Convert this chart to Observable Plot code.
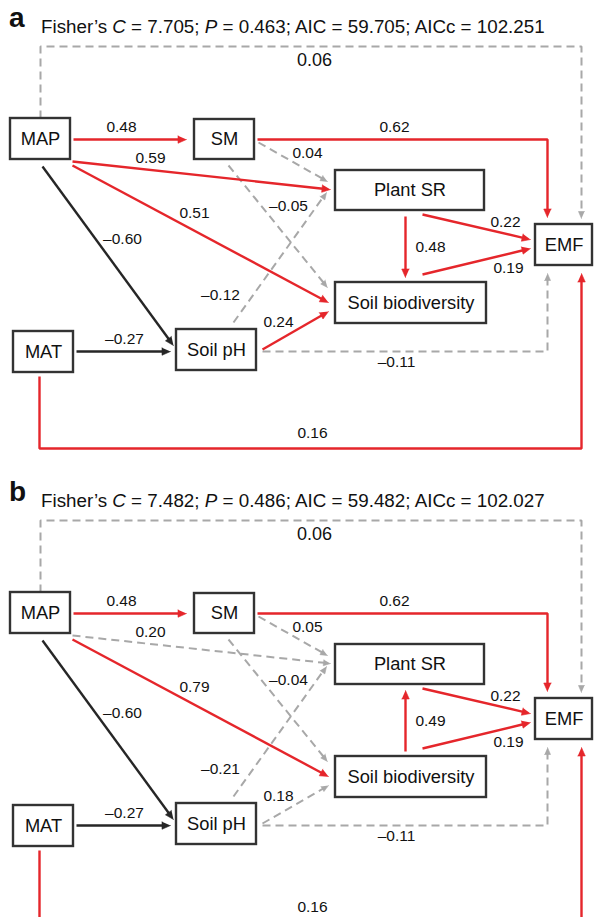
<!DOCTYPE html>
<html>
<head>
<meta charset="utf-8">
<script src="https://cdn.jsdelivr.net/npm/d3@7"></script>
<script src="https://cdn.jsdelivr.net/npm/@observablehq/plot@0.6"></script>
<style>
  html, body { margin: 0; padding: 0; background: #fff; }
  body { width: 594px; height: 917px; overflow: hidden; font-family: "Liberation Sans", Arial, Helvetica, sans-serif; color: #111; }
  .panel { position: relative; width: 594px; overflow: hidden; }
  .head { position: relative; width: 594px; height: 40px; }
  .letter { position: absolute; left: 9px; top: 4px; font-size: 28px; font-weight: bold; line-height: 28px; }
  .title { position: absolute; left: 41px; top: 18px; font-size: 18.8px; line-height: 18.8px; white-space: nowrap; }
  .panel svg { display: block; }
</style>
</head>
<body>
<div id="root"></div>
<script>
// ---------------- DATA ----------------
const panelLetters = ["a", "b"];
const fisherC = ["7.705", "7.482"];
const pValues = ["0.463", "0.486"];
const aicValues = ["59.705", "59.482"];
const aiccValues = ["102.251", "102.027"];

const nodeNames = ["MAP", "SM", "Plant SR", "EMF", "Soil biodiversity", "MAT", "Soil pH"];

// path (from, to) for each panel
const pathsA = [
  ["MAP", "SM"], ["SM", "EMF"], ["MAP", "EMF"], ["MAP", "Plant SR"],
  ["MAP", "Soil biodiversity"], ["MAP", "Soil pH"], ["MAT", "Soil pH"],
  ["SM", "Plant SR"], ["SM", "Soil biodiversity"], ["Soil pH", "Plant SR"],
  ["Soil pH", "Soil biodiversity"], ["Plant SR", "Soil biodiversity"],
  ["Plant SR", "EMF"], ["Soil biodiversity", "EMF"], ["Soil pH", "EMF"], ["MAT", "EMF"]
];
const pathsB = [
  ["MAP", "SM"], ["SM", "EMF"], ["MAP", "EMF"], ["MAP", "Plant SR"],
  ["MAP", "Soil biodiversity"], ["MAP", "Soil pH"], ["MAT", "Soil pH"],
  ["SM", "Plant SR"], ["SM", "Soil biodiversity"], ["Soil pH", "Plant SR"],
  ["Soil pH", "Soil biodiversity"], ["Soil biodiversity", "Plant SR"],
  ["Plant SR", "EMF"], ["Soil biodiversity", "EMF"], ["Soil pH", "EMF"], ["MAT", "EMF"]
];
// standardized path coefficients
const coefA = [0.48, 0.62, 0.06, 0.59, 0.51, -0.60, -0.27, 0.04, -0.05, -0.12, 0.24, 0.48, 0.22, 0.19, -0.11, 0.16];
const coefB = [0.48, 0.62, 0.06, 0.20, 0.79, -0.60, -0.27, 0.05, -0.04, -0.21, 0.18, 0.49, 0.22, 0.19, -0.11, 0.16];
// significance of each path
const significantA = [true, true, false, true, true, true, true, false, false, false, true, true, true, true, false, true];
const significantB = [true, true, false, false, true, true, true, false, false, false, false, true, true, true, false, true];

// ---------------- LAYOUT (diagram geometry, panel coordinates) ----------------
const boxes = {
  "MAP": [10, 70, 118, 159],
  "SM": [194, 254, 119, 159],
  "Plant SR": [335, 484, 170, 210],
  "EMF": [535, 592, 224, 265],
  "Soil biodiversity": [335, 486, 282, 323],
  "MAT": [13, 73, 331, 372],
  "Soil pH": [176, 256, 329, 370]
};
const routes = {
  "MAP→SM": [[73, 139], [186, 139]],
  "SM→EMF": [[257, 139], [547, 139], [547, 217]],
  "MAP→EMF": [[40, 118], [40, 46], [581, 46], [581, 218]],
  "MAP→Plant SR": [[72, 161], [330, 189]],
  "MAP→Soil biodiversity": [[72, 165], [328, 302]],
  "MAP→Soil pH": [[42, 166], [173, 345]],
  "MAT→Soil pH": [[76, 351], [170, 351]],
  "SM→Plant SR": [[258, 142], [327, 181]],
  "SM→Soil biodiversity": [[228, 165], [327, 287]],
  "Soil pH→Plant SR": [[233, 322], [326, 192]],
  "Soil pH→Soil biodiversity": [[262, 349], [328, 311]],
  "Plant SR→Soil biodiversity": [[405, 216], [405, 277]],
  "Plant SR→EMF": [[422, 214], [530, 239]],
  "Soil biodiversity→EMF": [[422, 274], [530, 248]],
  "Soil pH→EMF": [[262, 351], [547, 351], [547, 273]],
  "MAT→EMF": [[39, 376], [39, 448], [581, 448], [581, 273]]
};
const labelPos = [
  [121, 127], [394, 127], [314, 60], [150, 158], [194, 213], [122, 239], [124, 339],
  [307, 153], [288, 206], [220, 295], [278, 322], [430, 247], [505, 222], [508, 268],
  [396, 362], [312, 433]
];
const labelSize = [15.5, 15.5, 18, 15.5, 15.5, 15.5, 15.5, 15.5, 15.5, 15.5, 15.5, 15.5, 15.5, 15.5, 15.5, 15.5];

const RED = "#e5262b", BLACK = "#262626", GRAY = "#a8a8a8", BOX = "#333333";

function fmt(v) { return (v < 0 ? "\u2013" : "") + Math.abs(v).toFixed(2); }

function buildPanel(i, svgHeight) {
  const paths = i === 0 ? pathsA : pathsB;
  const coefs = i === 0 ? coefA : coefB;
  const sig = i === 0 ? significantA : significantB;

  const lineRows = { red: [], black: [], gray: [] };
  const headRows = { red: [], black: [], gray: [] };
  const labels = [];

  paths.forEach(([from, to], k) => {
    let pts = routes[`${from}→${to}`];
    if (!pts) pts = routes[`${to}→${from}`].slice().reverse();
    const cls = !sig[k] ? "gray" : (coefs[k] < 0 ? "black" : "red");
    const L = cls === "gray" ? 7 : 8.5, W = cls === "gray" ? 6 : 7.5;
    const tip = pts[pts.length - 1], prev = pts[pts.length - 2];
    const dx = tip[0] - prev[0], dy = tip[1] - prev[1], d = Math.hypot(dx, dy);
    const ux = dx / d, uy = dy / d, nx = -uy, ny = ux;
    const bx = tip[0] - L * ux, by = tip[1] - L * uy;
    const linePts = pts.slice(0, -1).concat([[tip[0] - (L - 1) * ux, tip[1] - (L - 1) * uy]]);
    linePts.forEach(([x, y]) => lineRows[cls].push({ id: k, x, y }));
    [[tip[0], tip[1]], [bx + nx * W / 2, by + ny * W / 2], [bx - nx * W / 2, by - ny * W / 2]]
      .forEach(([x, y]) => headRows[cls].push({ id: k, x, y }));
    labels.push({ x: labelPos[k][0], y: labelPos[k][1], text: fmt(coefs[k]), size: labelSize[k] });
  });

  const nodeRows = nodeNames.map(n => {
    const [x1, x2, y1, y2] = boxes[n];
    return { name: n, x1, x2, y1, y2, cx: (x1 + x2) / 2, cy: (y1 + y2) / 2 };
  });

  const colors = { red: RED, black: BLACK, gray: GRAY };
  const marks = [];
  for (const cls of ["gray", "black", "red"]) {
    marks.push(Plot.line(lineRows[cls], {
      x: "x", y: "y", z: "id", stroke: colors[cls],
      strokeWidth: cls === "gray" ? 2 : 2.4,
      strokeDasharray: cls === "gray" ? "8,5" : null,
      strokeLinecap: "butt", strokeLinejoin: "miter"
    }));
    marks.push(Plot.line(headRows[cls], {
      x: "x", y: "y", z: "id", fill: colors[cls], stroke: colors[cls], strokeWidth: 0.6
    }));
  }
  marks.push(Plot.rect(nodeRows, { x1: "x1", x2: "x2", y1: "y1", y2: "y2", fill: "white", stroke: BOX, strokeWidth: 2.4 }));
  marks.push(Plot.text(nodeRows, { x: "cx", y: "cy", text: "name", fontSize: 18.3, fill: "#111" }));
  marks.push(Plot.text(labels, { x: "x", y: "y", text: "text", fontSize: "size", fill: "#111" }));

  return Plot.plot({
    width: 594,
    height: svgHeight,
    margin: 0,
    x: { domain: [0, 594], range: [0, 594], axis: null },
    y: { domain: [40, 474], range: [0, 434], axis: null },
    style: { fontFamily: "'Liberation Sans', Arial, Helvetica, sans-serif", background: "white" },
    marks
  });
}

const root = document.getElementById("root");
const panelHeights = [474, 443];
panelLetters.forEach((letter, i) => {
  const panel = document.createElement("div");
  panel.className = "panel";
  panel.style.height = panelHeights[i] + "px";
  const head = document.createElement("div");
  head.className = "head";
  head.innerHTML = `<span class="letter">${letter}</span>` +
    `<span class="title">Fisher\u2019s <i>C</i> = ${fisherC[i]}; <i>P</i> = ${pValues[i]}; AIC = ${aicValues[i]}; AICc = ${aiccValues[i]}</span>`;
  panel.appendChild(head);
  panel.appendChild(buildPanel(i, panelHeights[i] - 40));
  root.appendChild(panel);
});
</script>
</body>
</html>
